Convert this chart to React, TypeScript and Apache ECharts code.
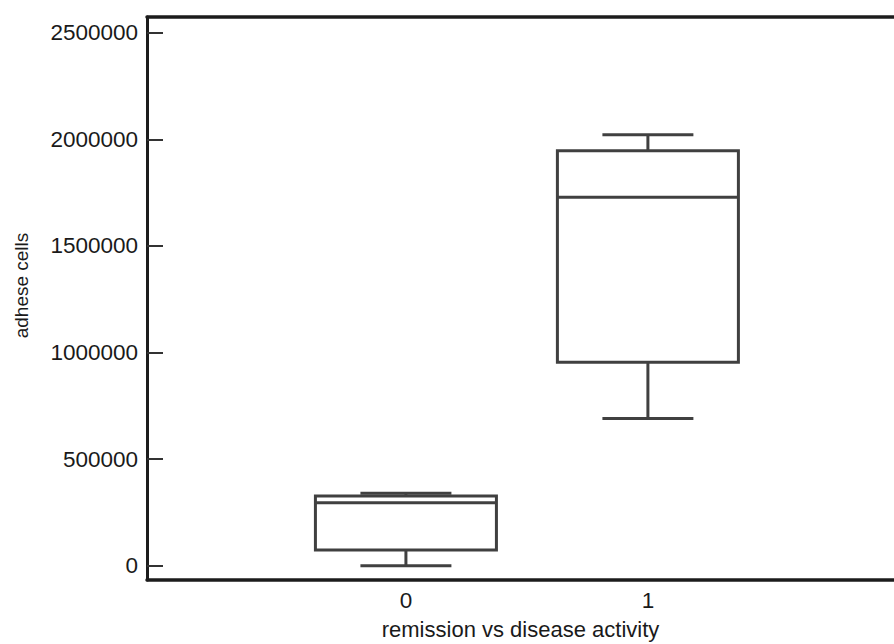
import React, { useEffect, useRef } from "react";
import * as echarts from "echarts";

const categories = [0, 1];
const mins = [0, 691000];
const q1s = [74000, 954000];
const medians = [295000, 1728000];
const q3s = [327000, 1946000];
const maxs = [340000, 2021000];
const yTicks = [0, 500000, 1000000, 1500000, 2000000, 2500000];
const xTicks = [0, 1];

const BOX_HALF = 0.374;
const CAP_HALF = 0.188;
const LINE_COLOR = "#404040";
const AXIS_COLOR = "#1c1c1c";
const FONT = "'Liberation Sans', Arial, sans-serif";

export default function App() {
  const ref = useRef<HTMLDivElement>(null);
  useEffect(() => {
    document.body.style.margin = "0";
    if (!ref.current) return;
    const chart = echarts.init(ref.current, null, { renderer: "svg" });
    const data = categories.map((c, i) => [c, mins[i], q1s[i], medians[i], q3s[i], maxs[i]]);
    const lineStyle = { stroke: LINE_COLOR, lineWidth: 3, fill: null };
    chart.setOption({
      animation: false,
      backgroundColor: "#ffffff",
      grid: { left: 147, right: 0, top: 17, bottom: 64, outerBoundsMode: "none", containLabel: false },
      xAxis: [
        {
          type: "value",
          min: -1.07,
          max: 2.017,
          position: "bottom",
          name: "remission vs disease activity",
          nameLocation: "middle",
          nameGap: 38,
          nameTextStyle: { fontFamily: FONT, fontSize: 22, color: "#1a1a1a" },
          axisLine: { show: true, onZero: false, lineStyle: { color: AXIS_COLOR, width: 3.5 } },
          axisTick: { show: false },
          splitLine: { show: false },
          axisLabel: {
            customValues: xTicks,
            formatter: (v: number) => String(v),
            fontFamily: FONT,
            fontSize: 22.5,
            color: "#1a1a1a",
            margin: 9,
          },
        },
        {
          type: "value",
          min: -1.07,
          max: 2.017,
          position: "top",
          axisLine: { show: true, onZero: false, lineStyle: { color: AXIS_COLOR, width: 3.5 } },
          axisTick: { show: false },
          axisLabel: { show: false },
          splitLine: { show: false },
        },
      ],
      yAxis: {
        type: "value",
        min: -67000,
        max: 2573600,
        name: "adhese cells",
        nameLocation: "middle",
        nameGap: 116,
        nameTextStyle: { fontFamily: FONT, fontSize: 19, color: "#1a1a1a", padding: [0, 0, 0, 26] },
        axisLine: { show: true, onZero: false, lineStyle: { color: AXIS_COLOR, width: 3 } },
        axisTick: {
          show: true,
          inside: true,
          length: 16,
          customValues: yTicks,
          lineStyle: { color: "#333333", width: 2 },
        },
        axisLabel: {
          customValues: yTicks,
          formatter: (v: number) => String(v),
          fontFamily: FONT,
          fontSize: 22.5,
          color: "#1a1a1a",
          margin: 9,
        },
        splitLine: { show: false },
      },
      series: [
        {
          type: "custom",
          xAxisIndex: 0,
          yAxisIndex: 0,
          encode: { x: 0, y: [1, 2, 3, 4, 5] },
          data,
          renderItem: (params: any, api: any) => {
            const x = api.value(0);
            const vMin = api.value(1);
            const vQ1 = api.value(2);
            const vMed = api.value(3);
            const vQ3 = api.value(4);
            const vMax = api.value(5);
            const pL = api.coord([x - BOX_HALF, vQ3]);
            const pR = api.coord([x + BOX_HALF, vQ1]);
            const pC = api.coord([x, vMed]);
            const cL = api.coord([x - CAP_HALF, vMin])[0];
            const cR = api.coord([x + CAP_HALF, vMin])[0];
            const yMin = api.coord([x, vMin])[1];
            const yMax = api.coord([x, vMax])[1];
            const yQ1 = pR[1];
            const yQ3 = pL[1];
            const yMed = pC[1];
            const cx = pC[0];
            return {
              type: "group",
              children: [
                { type: "line", shape: { x1: cx, y1: yMax, x2: cx, y2: yQ3 }, style: lineStyle },
                { type: "line", shape: { x1: cx, y1: yQ1, x2: cx, y2: yMin }, style: lineStyle },
                { type: "line", shape: { x1: cL, y1: yMax, x2: cR, y2: yMax }, style: lineStyle },
                { type: "line", shape: { x1: cL, y1: yMin, x2: cR, y2: yMin }, style: lineStyle },
                {
                  type: "rect",
                  shape: { x: pL[0], y: yQ3, width: pR[0] - pL[0], height: yQ1 - yQ3 },
                  style: { stroke: LINE_COLOR, lineWidth: 3, fill: "none" },
                },
                { type: "line", shape: { x1: pL[0], y1: yMed, x2: pR[0], y2: yMed }, style: lineStyle },
              ],
            };
          },
        },
      ],
    });
    return () => chart.dispose();
  }, []);
  return <div ref={ref} style={{ width: 894, height: 644 }} />;
}
